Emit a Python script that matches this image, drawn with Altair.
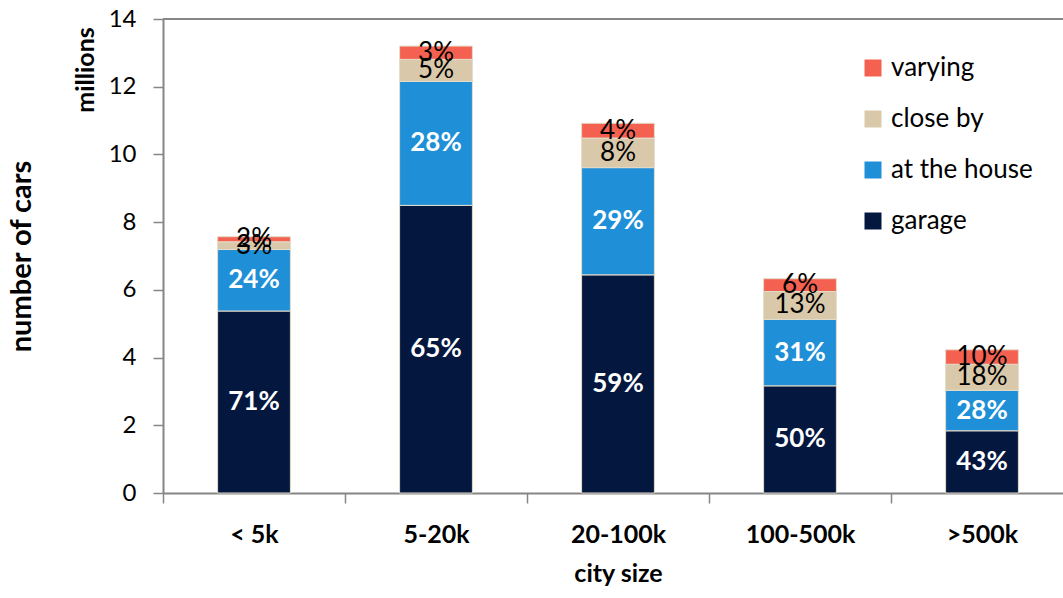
import altair as alt
import pandas as pd

# Cars by where they are parked, per city-size class (totals in millions, shares in %)
cities = ["< 5k", "5-20k", "20-100k", "100-500k", ">500k"]
totals = [7.57, 13.2, 10.92, 6.33, 4.23]
garage_pct = [71, 65, 59, 50, 43]
house_pct = [24, 28, 29, 31, 28]
close_pct = [3, 5, 8, 13, 18]
varying_pct = [2, 3, 4, 6, 10]

places = ["garage", "at the house", "close by", "varying"]
legend_order = ["varying", "close by", "at the house", "garage"]
legend_colors = ["#f46150", "#d9c8a9", "#1f8fd7", "#03173f"]

rows = []
for i, city in enumerate(cities):
    shares = [garage_pct[i], house_pct[i], close_pct[i], varying_pct[i]]
    share_sum = sum(shares)
    for k, (place, pct) in enumerate(zip(places, shares)):
        rows.append({
            "city": city,
            "place": place,
            "order": k,
            "cars": totals[i] * pct / share_sum,
            "label": f"{pct}%",
        })
df = pd.DataFrame(rows)

AXIS_GRAY = "#868686"
FONT = "Lato"

x_enc = alt.X(
    "city:N",
    sort=cities,
    scale=alt.Scale(range=[0, 910], paddingInner=0.6, paddingOuter=0.3),
    axis=alt.Axis(
        title="city size",
        titleFontSize=25,
        titleFontWeight="bold",
        titleColor="black",
        titlePadding=14,
        labelFontSize=25,
        labelFontWeight="bold",
        labelColor="black",
        labelPadding=19,
        labelAngle=0,
        tickSize=10,
        tickWidth=1.5,
        tickColor=AXIS_GRAY,
        tickOffset=-91,
        labelOffset=91,
        domainColor=AXIS_GRAY,
        domainWidth=2,
        grid=False,
    ),
)
y_scale = alt.Scale(domain=[0, 14], nice=False)

base = alt.Chart(df).transform_stack(
    stack="cars",
    groupby=["city"],
    sort=[alt.SortField("order", order="ascending")],
    as_=["y0", "y1"],
).transform_calculate(mid="(datum.y0 + datum.y1) / 2")

bars = base.mark_bar(stroke="#e4dccb", strokeWidth=1).encode(
    x=x_enc,
    y=alt.Y(
        "y0:Q",
        scale=y_scale,
        axis=alt.Axis(
            values=[0, 2, 4, 6, 8, 10, 12, 14],
            title="number of cars",
            titleFontSize=29,
            titleFontWeight="bold",
            titleColor="black",
            titlePadding=72,
            labelFontSize=24,
            labelColor="black",
            labelPadding=17,
            tickSize=10,
            tickWidth=1.5,
            tickColor=AXIS_GRAY,
            domainColor=AXIS_GRAY,
            domainWidth=2,
            grid=False,
        ),
    ),
    y2="y1:Q",
    color=alt.Color(
        "place:N",
        scale=alt.Scale(domain=legend_order, range=legend_colors),
        legend=alt.Legend(
            title=None,
            orient="none",
            legendX=697,
            legendY=36,
            padding=0,
            symbolType="square",
            symbolSize=289,
            symbolStrokeWidth=0,
            labelFontSize=26,
            labelColor="black",
            labelOffset=5,
            rowPadding=25,
        ),
    ),
)

labels_light = base.transform_filter("datum.order <= 1").mark_text(
    color="white", fontWeight="bold", fontSize=26, baseline="middle"
).encode(x=x_enc, y=alt.Y("mid:Q", scale=y_scale), text="label:N")

labels_dark = base.transform_filter("datum.order >= 2").mark_text(
    color="black", fontSize=26, baseline="middle"
).encode(x=x_enc, y=alt.Y("mid:Q", scale=y_scale), text="label:N")

top_line = alt.Chart(pd.DataFrame({"v": [14]})).mark_rule(
    color=AXIS_GRAY, strokeWidth=2
).encode(y=alt.Y("v:Q", scale=y_scale))

unit_note = alt.Chart(pd.DataFrame({"t": ["millions"]})).mark_text(
    angle=270, fontWeight="bold", fontSize=25, align="center", baseline="middle", color="black"
).encode(text="t:N", x=alt.value(-77), y=alt.value(51))

chart = alt.layer(bars, top_line, labels_light, labels_dark, unit_note).properties(
    width=900,
    height=474,
    autosize=alt.AutoSizeParams(type="none"),
    padding={"left": 163, "top": 19, "right": 0, "bottom": 105},
).configure(font=FONT).configure_view(stroke=None)

chart.save("out.html", embed_options={"renderer": "svg", "actions": False})
